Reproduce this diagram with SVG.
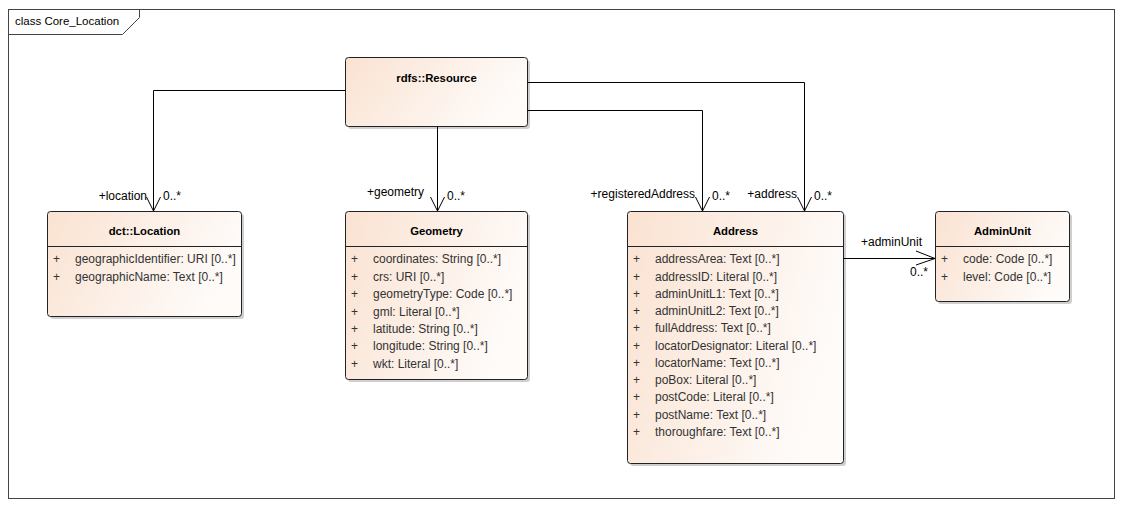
<svg xmlns="http://www.w3.org/2000/svg" width="1123" height="507" viewBox="0 0 1123 507">
<style>
text{font-family:"Liberation Sans",Arial,sans-serif;font-size:12px;fill:#000}
.t{font-weight:bold;text-anchor:middle;font-size:11.3px}
.a{fill:#333}
.box{fill:url(#g);stroke:#222;stroke-width:1}
.sh{fill:#cfcfcf}
.sep{stroke:#222;stroke-width:1}
.c{fill:none;stroke:#000;stroke-width:1}
.lbl{font-size:12px}
</style>
<defs>
<linearGradient id="g" x1="0" y1="0" x2="1" y2="0.3">
<stop offset="0" stop-color="#FAE2D1"/>
<stop offset="1" stop-color="#FEFBF9"/>
</linearGradient>
</defs>
<rect x="0" y="0" width="1123" height="507" fill="#fff"/>
<g id="frame">
<rect x="8.5" y="9.5" width="1106" height="489" fill="none" stroke="#444"/>
<path d="M8.5 34.5H122.5L139.5 17.5V9.5" fill="none" stroke="#444"/>
<text x="15" y="25" style="font-size:11.5px">class Core_Location</text>
</g>
<g id="resource">
<rect class="sh" x="348" y="60" width="182" height="69" rx="3"/>
<rect class="box" x="345.5" y="57.5" width="182" height="69" rx="3"/>
<text class="t" x="436.5" y="82">rdfs::Resource</text>
</g>
<g id="location">
<rect class="sh" x="50" y="214" width="194" height="105" rx="3"/>
<rect class="box" x="47.5" y="211.5" width="194" height="105" rx="3"/>
<text class="t" x="144.5" y="235">dct::Location</text>
<line class="sep" x1="47.5" y1="246.5" x2="241.5" y2="246.5"/>
<text class="a" x="53" y="263">+</text><text class="a" x="75" y="263">geographicIdentifier: URI [0..*]</text>
<text class="a" x="53" y="281">+</text><text class="a" x="75" y="281">geographicName: Text [0..*]</text>
</g>
<g id="geometry">
<rect class="sh" x="348" y="214" width="182" height="168" rx="3"/>
<rect class="box" x="345.5" y="211.5" width="182" height="168" rx="3"/>
<text class="t" x="436.5" y="235">Geometry</text>
<line class="sep" x1="345.5" y1="246.5" x2="527.5" y2="246.5"/>
<text class="a" x="351" y="263">+</text><text class="a" x="373" y="263">coordinates: String [0..*]</text>
<text class="a" x="351" y="281">+</text><text class="a" x="373" y="281">crs: URI [0..*]</text>
<text class="a" x="351" y="298">+</text><text class="a" x="373" y="298">geometryType: Code [0..*]</text>
<text class="a" x="351" y="316">+</text><text class="a" x="373" y="316">gml: Literal [0..*]</text>
<text class="a" x="351" y="333">+</text><text class="a" x="373" y="333">latitude: String [0..*]</text>
<text class="a" x="351" y="350">+</text><text class="a" x="373" y="350">longitude: String [0..*]</text>
<text class="a" x="351" y="368">+</text><text class="a" x="373" y="368">wkt: Literal [0..*]</text>
</g>
<g id="address">
<rect class="sh" x="630" y="214" width="216" height="252" rx="3"/>
<rect class="box" x="627.5" y="211.5" width="216" height="252" rx="3"/>
<text class="t" x="735.5" y="235">Address</text>
<line class="sep" x1="627.5" y1="246.5" x2="843.5" y2="246.5"/>
<text class="a" x="633" y="263">+</text><text class="a" x="655" y="263">addressArea: Text [0..*]</text>
<text class="a" x="633" y="281">+</text><text class="a" x="655" y="281">addressID: Literal [0..*]</text>
<text class="a" x="633" y="298">+</text><text class="a" x="655" y="298">adminUnitL1: Text [0..*]</text>
<text class="a" x="633" y="315">+</text><text class="a" x="655" y="315">adminUnitL2: Text [0..*]</text>
<text class="a" x="633" y="332">+</text><text class="a" x="655" y="332">fullAddress: Text [0..*]</text>
<text class="a" x="633" y="350">+</text><text class="a" x="655" y="350">locatorDesignator: Literal [0..*]</text>
<text class="a" x="633" y="367">+</text><text class="a" x="655" y="367">locatorName: Text [0..*]</text>
<text class="a" x="633" y="384">+</text><text class="a" x="655" y="384">poBox: Literal [0..*]</text>
<text class="a" x="633" y="401">+</text><text class="a" x="655" y="401">postCode: Literal [0..*]</text>
<text class="a" x="633" y="419">+</text><text class="a" x="655" y="419">postName: Text [0..*]</text>
<text class="a" x="633" y="436">+</text><text class="a" x="655" y="436">thoroughfare: Text [0..*]</text>
</g>
<g id="adminunit">
<rect class="sh" x="938" y="214" width="134" height="90" rx="3"/>
<rect class="box" x="935.5" y="211.5" width="134" height="90" rx="3"/>
<text class="t" x="1002.5" y="235">AdminUnit</text>
<line class="sep" x1="935.5" y1="246.5" x2="1069.5" y2="246.5"/>
<text class="a" x="941" y="263">+</text><text class="a" x="963" y="263">code: Code [0..*]</text>
<text class="a" x="941" y="281">+</text><text class="a" x="963" y="281">level: Code [0..*]</text>
</g>
<g id="connectors">
<path class="c" d="M345.5 90.5H153.5V211"/>
<path class="c" d="M146.5 197L153.5 211L160.5 197"/>
<path class="c" d="M437.5 126.5V211"/>
<path class="c" d="M430.5 197L437.5 211L444.5 197"/>
<path class="c" d="M527.5 110.5H702.5V211"/>
<path class="c" d="M695.5 197L702.5 211L709.5 197"/>
<path class="c" d="M527.5 82.5H804.5V211"/>
<path class="c" d="M797.5 197L804.5 211L811.5 197"/>
<path class="c" d="M843.5 258.5H935"/>
<path class="c" d="M916 251L935 258.5L916 265"/>
<text class="lbl" x="147" y="200" text-anchor="end">+location</text>
<text class="lbl" x="163" y="200">0..*</text>
<text class="lbl" x="424" y="196" text-anchor="end">+geometry</text>
<text class="lbl" x="447" y="200">0..*</text>
<text class="lbl" x="695" y="198" text-anchor="end">+registeredAddress</text>
<text class="lbl" x="712" y="200">0..*</text>
<text class="lbl" x="797" y="198" text-anchor="end">+address</text>
<text class="lbl" x="814" y="200">0..*</text>
<text class="lbl" x="861" y="246">+adminUnit</text>
<text class="lbl" x="928" y="276" text-anchor="end">0..*</text>
</g>
</svg>
